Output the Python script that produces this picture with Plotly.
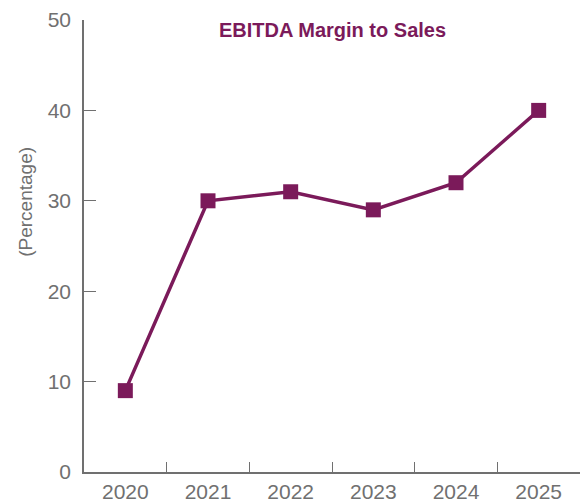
import plotly.graph_objects as go

years = ["2020", "2021", "2022", "2023", "2024", "2025"]
margin_pct = [9, 30, 31, 29, 32, 40]
y_ticks = [0, 10, 20, 30, 40, 50]

purple = "#7B1A5A"
gray = "#707070"
font_family = "Liberation Sans, Arial, sans-serif"

fig = go.Figure()
fig.add_trace(go.Scatter(
    x=years, y=margin_pct, mode="lines+markers",
    line=dict(color=purple, width=3.5),
    marker=dict(symbol="square", size=15, color=purple),
    showlegend=False, cliponaxis=False,
))

fig.update_layout(
    width=581, height=502,
    margin=dict(l=84, r=1, t=20, b=29.5),
    plot_bgcolor="white", paper_bgcolor="white",
    font=dict(family=font_family, color=gray, size=21),
    xaxis=dict(
        type="category", range=[-0.5, 5.5], showline=True, linecolor=gray, linewidth=1.5,
        ticks="inside", tickson="boundaries", ticklen=10, tickcolor=gray, tickwidth=1.2,
        showgrid=False, zeroline=False, tickfont=dict(size=21, color=gray),
        ticklabelstandoff=0, automargin=False,
    ),
    yaxis=dict(
        range=[0, 50], tickvals=y_ticks, showline=True, linecolor=gray, linewidth=1.5,
        ticks="inside", ticklen=12, tickcolor=gray, tickwidth=1.2,
        showgrid=False, zeroline=False, tickfont=dict(size=21, color=gray),
        ticklabelstandoff=7, automargin=False,
    ),
    annotations=[
        dict(text="EBITDA Margin to Sales", xref="paper", yref="paper",
             x=0.5, y=(472.5 - 30) / 452.5, xanchor="center", yanchor="middle",
             showarrow=False, font=dict(size=20, color=purple, family=font_family, weight="bold")),
        dict(text="(Percentage)", xref="paper", yref="paper",
             x=(26 - 84) / 496, y=(472.5 - 202) / 452.5, xanchor="center", yanchor="middle",
             textangle=-90, showarrow=False, font=dict(size=19, color=gray)),
    ],
)

fig.write_html("out.html", config={"displayModeBar": False},
               post_script="document.body.style.margin='0';document.body.style.overflow='hidden';")
